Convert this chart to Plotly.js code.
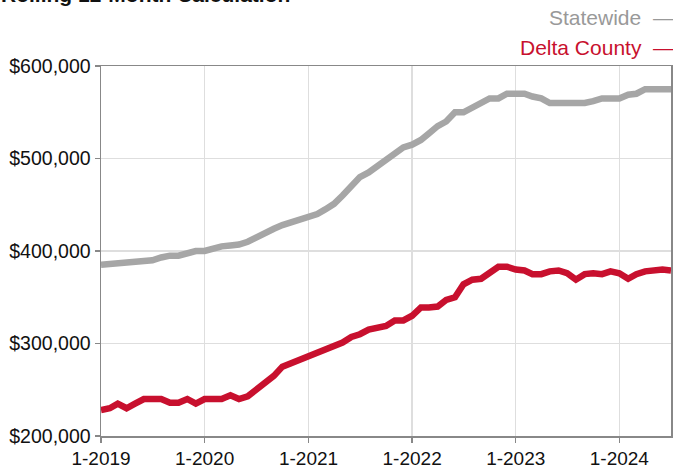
<!DOCTYPE html>
<html>
<head>
<meta charset="utf-8">
<script src="https://cdn.plot.ly/plotly-3.0.1.min.js"></script>
<style>html,body{margin:0;padding:0;background:#fff;}#chart{width:673px;height:468px;}</style>
</head>
<body>
<div id="chart"></div>
<script>
// Months: Jan 2019 .. Jul 2024
var months = [
 "2019-01","2019-02","2019-03","2019-04","2019-05","2019-06","2019-07","2019-08","2019-09","2019-10","2019-11","2019-12",
 "2020-01","2020-02","2020-03","2020-04","2020-05","2020-06","2020-07","2020-08","2020-09","2020-10","2020-11","2020-12",
 "2021-01","2021-02","2021-03","2021-04","2021-05","2021-06","2021-07","2021-08","2021-09","2021-10","2021-11","2021-12",
 "2022-01","2022-02","2022-03","2022-04","2022-05","2022-06","2022-07","2022-08","2022-09","2022-10","2022-11","2022-12",
 "2023-01","2023-02","2023-03","2023-04","2023-05","2023-06","2023-07","2023-08","2023-09","2023-10","2023-11","2023-12",
 "2024-01","2024-02","2024-03","2024-04","2024-05","2024-06","2024-07"
];
// Median sales price, rolling 12-month (values in dollars)
var statewide = [
 385000,386000,387000,388000,389000,390000,390000,393000,395000,395000,397000,400000,
 400000,403000,405000,406000,407000,410000,415000,420000,424000,428000,431000,434000,
 438000,440000,445000,451000,460000,470000,480000,485000,492000,500000,505000,512000,
 515000,520000,527000,535000,540000,550000,550000,555000,560000,565000,565000,570000,
 570000,570000,567000,565000,560000,560000,560000,560000,560000,562000,565000,565000,
 565000,569000,570000,575000,575000,575000,575000
];
var deltaCounty = [
 228000,230000,235000,230000,235000,240000,240000,240000,236000,236000,240000,235000,
 240000,240000,240000,244000,240000,243000,250000,258000,265000,275000,279000,282000,
 285000,289000,294000,298000,301000,307000,310000,315000,317000,319000,325000,325000,
 330000,339000,339000,340000,347000,350000,364000,369000,370000,376000,383000,383000,
 380000,379000,375000,375000,378000,379000,376000,369000,375000,376000,375000,378000,
 376000,370000,375000,378000,379000,380000,379000
];
var yTickVals = [200000,300000,400000,500000,600000];
var yTickText = ["$200,000","$300,000","$400,000","$500,000","$600,000"];
var xTickVals = ["2019-01","2020-01","2021-01","2022-01","2023-01","2024-01"];
var xTickText = ["1-2019","1-2020","1-2021","1-2022","1-2023","1-2024"];
var seriesNames = ["Statewide","Delta County"];
var seriesColors = ["#a6a6a6","#c8102e"];

var FONT = "Liberation Sans, Arial, Helvetica, sans-serif";
var W = 673, H = 468;
var margin = {l:101, r:2, t:66, b:32};

var traces = [
 {x: months, y: statewide, name: seriesNames[0], type: "scatter", mode: "lines",
  line: {color: seriesColors[0], width: 6.5}, showlegend: false},
 {x: months, y: deltaCounty, name: seriesNames[1], type: "scatter", mode: "lines",
  line: {color: seriesColors[1], width: 6.5}, showlegend: false}
];

function py(pix){ return 1 - (pix - margin.t) / (H - margin.t - margin.b); }
function px(pix){ return (pix - margin.l) / (W - margin.l - margin.r); }

var layout = {
 width: W, height: H,
 margin: margin,
 paper_bgcolor: "#fff", plot_bgcolor: "#fff",
 font: {family: FONT, size: 19, color: "#111"},
 showlegend: false,
 xaxis: {
  type: "date", range: ["2019-01-01","2024-07-01"],
  tickvals: xTickVals, ticktext: xTickText,
  showgrid: true, gridcolor: "#dedede", gridwidth: 1.5,
  showline: true, linecolor: "#888", linewidth: 1.5, mirror: true,
  ticks: "outside", ticklen: 5, tickcolor: "#888", tickwidth: 1.5,
  tickfont: {family: FONT, size: 19, color: "#111"},
  zeroline: false, fixedrange: true
 },
 yaxis: {
  range: [200000, 600000],
  tickvals: yTickVals, ticktext: yTickText,
  showgrid: true, gridcolor: "#dedede", gridwidth: 1.5,
  showline: true, linecolor: "#888", linewidth: 1.5, mirror: true,
  ticks: "outside", ticklen: 5, tickcolor: "#888", tickwidth: 1.5,
  tickfont: {family: FONT, size: 19.5, color: "#111"},
  zeroline: false, fixedrange: true
 },
 annotations: [
  {text: "<b>Rolling 12-Month Calculation</b>", xref: "paper", yref: "paper",
   x: px(-1), y: py(8.5), xanchor: "left", yanchor: "bottom", showarrow: false,
   font: {family: FONT, size: 21, color: "#111"}},
  {text: seriesNames[0] + "  —", xref: "paper", yref: "paper",
   x: px(676), y: py(17), xanchor: "right", yanchor: "middle", showarrow: false,
   font: {family: FONT, size: 21, color: "#999"}},
  {text: seriesNames[1] + "  —", xref: "paper", yref: "paper",
   x: px(676), y: py(47), xanchor: "right", yanchor: "middle", showarrow: false,
   font: {family: FONT, size: 21, color: seriesColors[1]}}
 ]
};

Plotly.newPlot("chart", traces, layout, {displayModeBar: false, staticPlot: true});
</script>
</body>
</html>
